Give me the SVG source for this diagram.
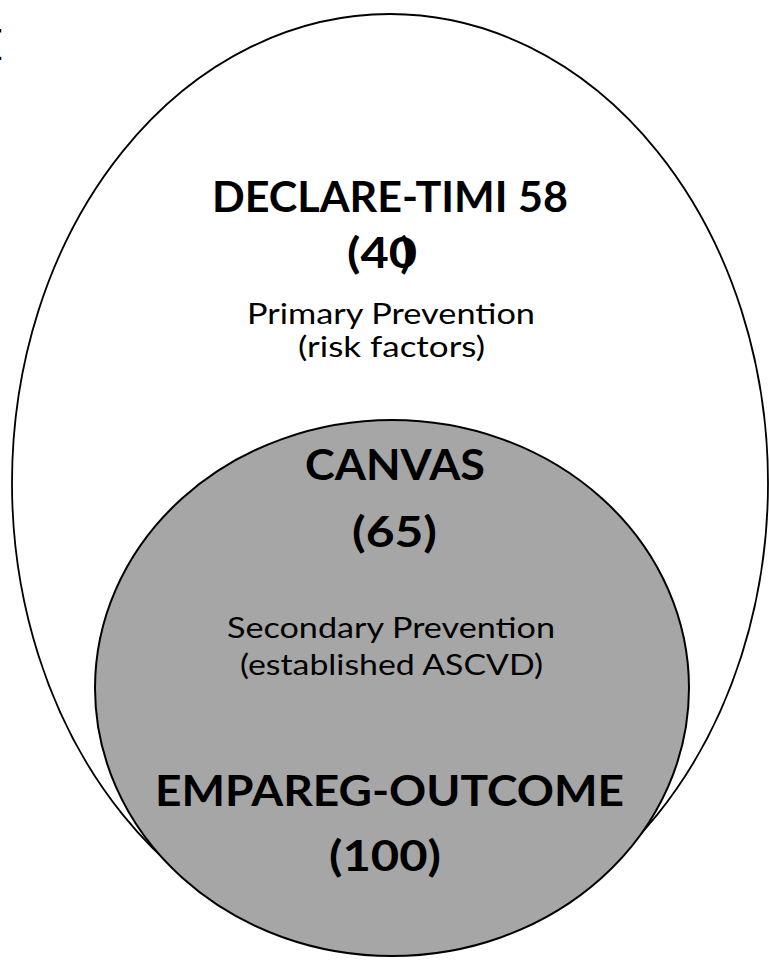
<svg xmlns="http://www.w3.org/2000/svg" width="769" height="966" viewBox="0 0 769 966">
<style>
.bg{fill:#ffffff}
.outer{fill:#ffffff;stroke:#000000;stroke-width:1.8}
.inner{fill:#a6a6a6;stroke:#000000;stroke-width:2}
.t{font-family:"Lato","Liberation Sans",sans-serif;fill:#000000;text-anchor:middle}
.b{font-weight:700;font-size:42px}
.r{font-weight:400;font-size:28px}
.r2{font-weight:400;font-size:29px}
</style>
<rect class="bg" x="0" y="0" width="769" height="966"/>
<text x="3" y="60" font-family="Lato, sans-serif" font-size="42" text-anchor="end" fill="#000">E</text>
<g id="primary">
<ellipse class="outer" cx="390" cy="483" rx="378" ry="469"/>
</g>
<g id="secondary">
<ellipse class="inner" cx="392" cy="688" rx="297" ry="268"/>
</g>
<g id="declare">
<text class="t b" x="390" y="212" textLength="356" lengthAdjust="spacingAndGlyphs">DECLARE-TIMI 58</text>
<text class="t b" x="382" y="268" textLength="70" lengthAdjust="spacingAndGlyphs">(40</text>
<text class="t b" x="406" y="268">)</text>
</g>
<g id="primary-label">
<text class="t r" x="391" y="324" textLength="288" lengthAdjust="spacingAndGlyphs">Primary Prevention</text>
<text class="t r" x="391.5" y="357" textLength="187" lengthAdjust="spacingAndGlyphs">(risk factors)</text>
</g>
<g id="canvas">
<text class="t b" x="395" y="480" textLength="180" lengthAdjust="spacingAndGlyphs">CANVAS</text>
<text class="t b" x="394.5" y="547" textLength="85" lengthAdjust="spacingAndGlyphs">(65)</text>
</g>
<g id="secondary-label">
<text class="t r2" x="391" y="638" textLength="328" lengthAdjust="spacingAndGlyphs">Secondary Prevention</text>
<text class="t r2" x="391.5" y="675" textLength="303" lengthAdjust="spacingAndGlyphs">(established ASCVD)</text>
</g>
<g id="empareg">
<text class="t b" x="389.5" y="806" textLength="469" lengthAdjust="spacingAndGlyphs">EMPAREG-OUTCOME</text>
<text class="t b" x="385" y="871" textLength="112" lengthAdjust="spacingAndGlyphs">(100)</text>
</g>
<g id="connectors"></g>
</svg>
